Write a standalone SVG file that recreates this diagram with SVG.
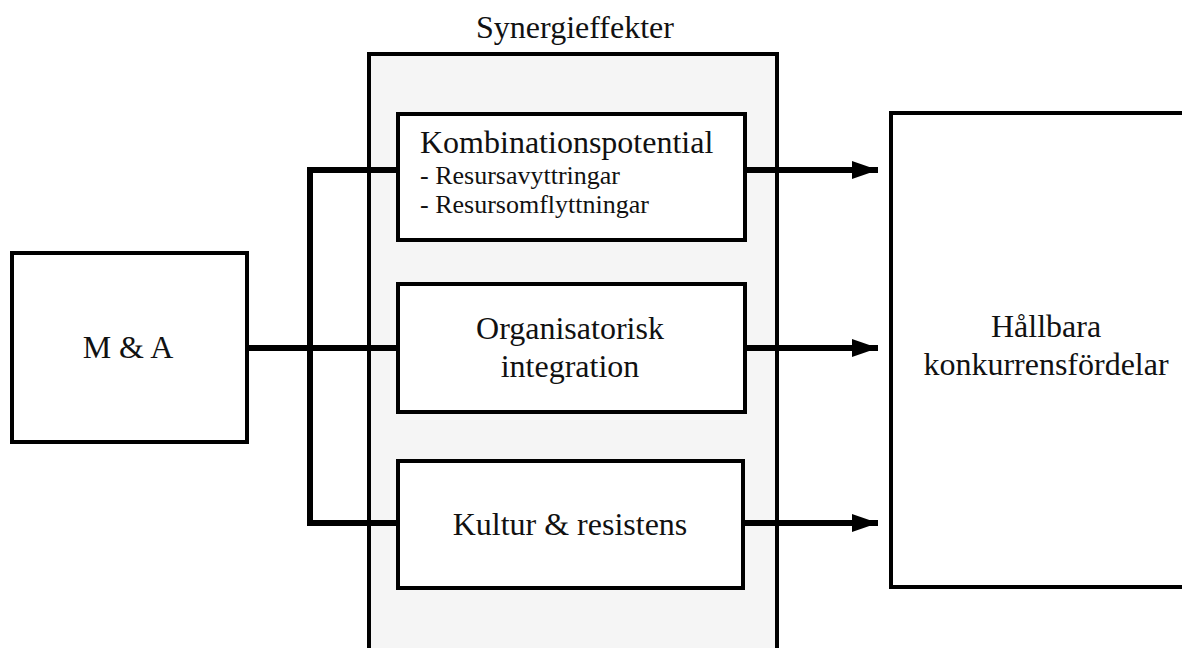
<svg xmlns="http://www.w3.org/2000/svg" width="1182" height="648" viewBox="0 0 1182 648">
<style>
.box{fill:#ffffff;stroke:#000;stroke-width:4}
.outer{fill:#f5f5f5;stroke:#000;stroke-width:4}
.t{font-family:"Liberation Serif","Times New Roman",serif;font-size:32px;fill:#111}
.s{font-family:"Liberation Serif","Times New Roman",serif;font-size:26px;fill:#111}
.c{text-anchor:middle}
.ln{fill:none;stroke:#000;stroke-width:6;stroke-linejoin:miter}
</style>
<defs>
<marker id="arr" markerUnits="userSpaceOnUse" markerWidth="28" markerHeight="20" refX="26" refY="9" orient="auto">
<path d="M0,0 L26,9 L0,18 Z" fill="#000"/>
</marker>
</defs>
<rect width="1182" height="648" fill="#fff"/>
<g id="synergieffekter">
<rect class="outer" x="369" y="54" width="408" height="620"/>
<text class="t c" x="575" y="38">Synergieffekter</text>
</g>
<g id="connectors">
<path class="ln" d="M247,348 H398"/>
<path class="ln" d="M398,170 H310 V523 H398"/>
<path class="ln" d="M745,170 H878" marker-end="url(#arr)"/>
<path class="ln" d="M745,348 H878" marker-end="url(#arr)"/>
<path class="ln" d="M745,523 H878" marker-end="url(#arr)"/>
</g>
<g id="ma">
<rect class="box" x="12" y="253" width="235" height="189"/>
<text class="t c" x="128" y="358">M &amp; A</text>
</g>
<g id="kombinationspotential">
<rect class="box" x="398" y="114" width="347" height="126"/>
<text class="t" x="420" y="153">Kombinationspotential</text>
<text class="s" x="420" y="184">- Resursavyttringar</text>
<text class="s" x="420" y="213">- Resursomflyttningar</text>
</g>
<g id="organisatorisk">
<rect class="box" x="398" y="284" width="347" height="128"/>
<text class="t c" x="570" y="339">Organisatorisk</text>
<text class="t c" x="570" y="377">integration</text>
</g>
<g id="kultur">
<rect class="box" x="398" y="461" width="345" height="127"/>
<text class="t c" x="570" y="535">Kultur &amp; resistens</text>
</g>
<g id="hallbara">
<rect class="box" x="891" y="113" width="300" height="474"/>
<text class="t c" x="1046" y="337">Hållbara</text>
<text class="t c" x="1046" y="375">konkurrensfördelar</text>
</g>
</svg>
